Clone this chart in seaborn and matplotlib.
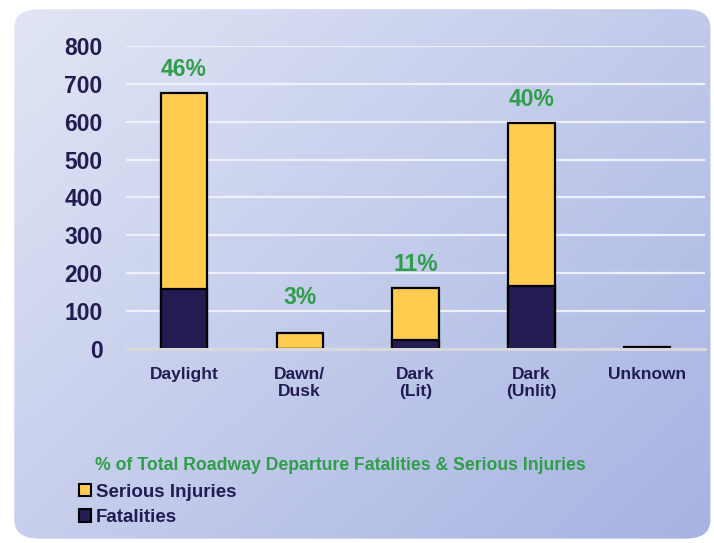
import numpy as np
import pandas as pd
import matplotlib
matplotlib.use("Agg")
import matplotlib.pyplot as plt
import seaborn as sns
from matplotlib.patches import FancyBboxPatch, Patch

categories = ["Daylight", "Dawn/\nDusk", "Dark\n(Lit)", "Dark\n(Unlit)", "Unknown"]
fatalities = [159, 1, 24, 167, 1]
serious_injuries = [516, 42, 136, 429, 3]
pct_labels = ["46%", "3%", "11%", "40%", ""]
yticks = [0, 100, 200, 300, 400, 500, 600, 700, 800]

sns.set_theme(style="white")
plt.rcParams["font.family"] = ["Liberation Sans", "DejaVu Sans"]

NAVY = "#221c52"
YELLOW = "#ffcc4f"
GREEN = "#2e9e48"

totals = [f + s for f, s in zip(fatalities, serious_injuries)]
df = pd.DataFrame({"cat": categories, "fat": fatalities, "tot": totals})

fig = plt.figure(figsize=(7.14, 5.43), dpi=100)
fig.patch.set_facecolor("white")

# background gradient panel
bg = fig.add_axes([0, 0, 1, 1], zorder=-10)
bg.set_xlim(0, 1); bg.set_ylim(0, 1); bg.axis("off")
nx, ny = 200, 200
xx, yy = np.meshgrid(np.linspace(0, 1, nx), np.linspace(1, 0, ny))
t = (xx * 0.55 + (1 - yy) * 0.45)
c0 = np.array([0xe2, 0xe6, 0xf5]) / 255
c1 = np.array([0xa6, 0xb3, 0xe2]) / 255
img = c0[None, None, :] * (1 - t[..., None]) + c1[None, None, :] * t[..., None]
im = bg.imshow(img, extent=[0, 1, 0, 1], aspect="auto", zorder=0)
panel = FancyBboxPatch((0.02, 0.008), 0.975, 0.975,
                       boxstyle="round,pad=0,rounding_size=0.035",
                       transform=bg.transAxes, facecolor="none", edgecolor="none")
bg.add_patch(panel)
im.set_clip_path(panel)

ax = fig.add_axes([0.1765, 0.3573, 0.811, 0.558])
ax.set_facecolor("none")
sns.barplot(data=df, x="cat", y="tot", color=YELLOW, width=0.4,
            edgecolor="black", linewidth=1.6, saturation=1, ax=ax, zorder=3)
sns.barplot(data=df, x="cat", y="fat", color=NAVY, width=0.4,
            edgecolor="black", linewidth=1.6, saturation=1, ax=ax, zorder=4)

ax.set_ylim(0, 800)
ax.set_xlim(-0.5, 4.5)
ax.set_yticks(yticks)
ax.yaxis.grid(True, color="#eef0fa", linewidth=1.6, zorder=0)
ax.set_axisbelow(True)
for s in ["top", "right", "left"]:
    ax.spines[s].set_visible(False)
ax.spines["bottom"].set_color("#d8d8dc")
ax.spines["bottom"].set_linewidth(2.2)
ax.spines["bottom"].set_zorder(5)
ax.set_xlabel(""); ax.set_ylabel("")
ax.tick_params(axis="y", length=0, pad=17)
ax.tick_params(axis="x", length=0, pad=13)
for lab in ax.get_yticklabels():
    lab.set_fontsize(16.5); lab.set_fontweight("bold"); lab.set_color(NAVY)
for lab in ax.get_xticklabels():
    lab.set_fontsize(12.5); lab.set_fontweight("bold"); lab.set_color(NAVY)
    lab.set_linespacing(1.2)

for i, (tot, p) in enumerate(zip(totals, pct_labels)):
    if p:
        ax.text(i, max(tot, 75) + 62, p, ha="center", va="center",
                fontsize=16.5, fontweight="bold", color=GREEN)

fig.text(0.133, 0.142, "% of Total Roadway Departure Fatalities & Serious Injuries",
         fontsize=12.7, fontweight="bold", color=GREEN, va="center")

handles = [Patch(facecolor=YELLOW, edgecolor="black", linewidth=1.5, label="Serious Injuries"),
           Patch(facecolor=NAVY, edgecolor="black", linewidth=1.5, label="Fatalities")]
leg = fig.legend(handles=handles, loc="upper left", bbox_to_anchor=(0.1, 0.123),
                 frameon=False, handlelength=0.65, handleheight=0.65, handletextpad=0.25,
                 labelspacing=0.45, borderaxespad=0,
                 prop={"weight": "bold", "size": 13.5})
for t_ in leg.get_texts():
    t_.set_color(NAVY)

fig.savefig("out.png", dpi=100)
